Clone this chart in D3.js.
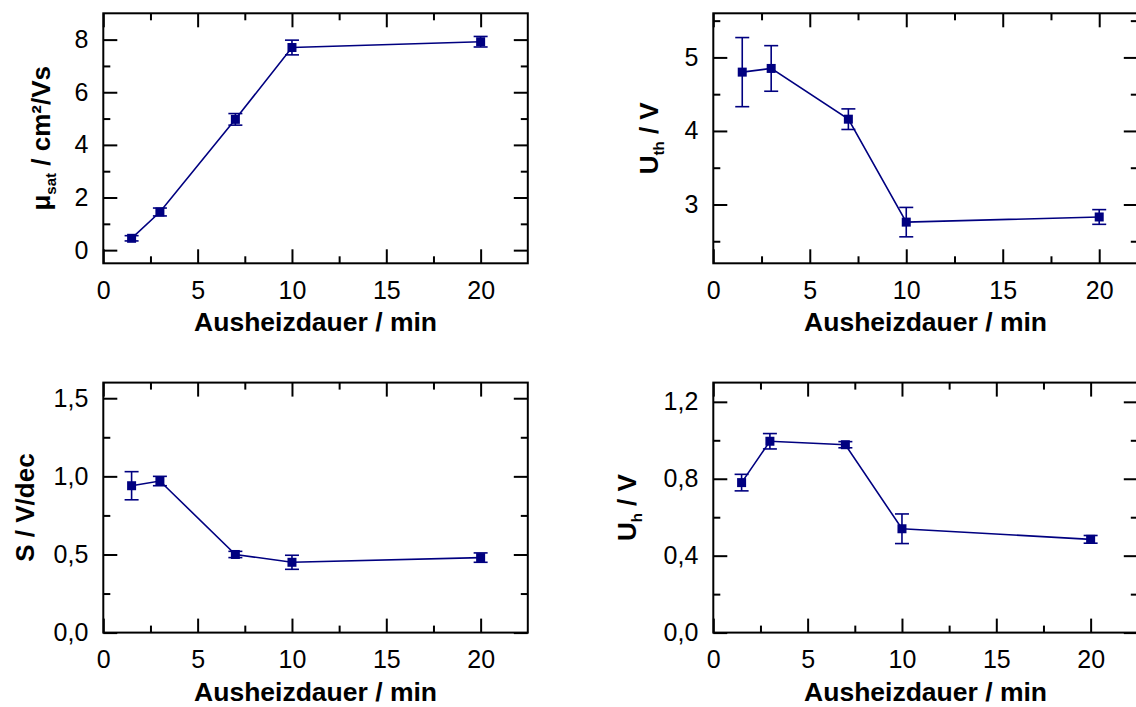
<!DOCTYPE html>
<html>
<head>
<meta charset="utf-8">
<script src="https://cdn.jsdelivr.net/npm/d3@7"></script>
<style>
  body { margin: 0; background: #fff; }
  svg { display: block; }
  text { font-family: Arial, "Liberation Sans", sans-serif; fill: #000; }
</style>
</head>
<body>
<div id="chart"></div>
<script>
// Ausheizdauer (min) and the four measured quantities with their error bars
const ausheizdauer = [1.5, 3, 7, 10, 20];

const muSat     = [0.45, 1.45, 4.97, 7.70, 7.92];
const muSatErr  = [0.10, 0.15, 0.22, 0.28, 0.20];

const uTh       = [4.80, 4.85, 4.16, 2.76, 2.83];
const uThErr    = [0.47, 0.31, 0.14, 0.20, 0.10];

const sSwing    = [0.94, 0.97, 0.50, 0.45, 0.48];
const sSwingErr = [0.09, 0.03, 0.02, 0.045, 0.03];

const uH        = [0.78, 0.995, 0.977, 0.54, 0.485];
const uHErr     = [0.043, 0.04, 0.016, 0.077, 0.02];

// tick values
const xTicks   = [0, 5, 10, 15, 20];
const xMinor   = [2.5, 7.5, 12.5, 17.5];
const muTicks  = [0, 2, 4, 6, 8];
const muMinor  = [1, 3, 5, 7];
const uThTicks = [3, 4, 5];
const uThMinor = [2.5, 3.5, 4.5, 5.5];
const sTicks   = [0, 0.5, 1.0, 1.5];
const sMinor   = [0.25, 0.75, 1.25];
const uHTicks  = [0, 0.4, 0.8, 1.2];
const uHMinor  = [0.2, 0.6, 1.0];

const xTitle = "Ausheizdauer / min";
const COLOR = "#000080";

const deLocale = d3.formatLocale({ decimal: ",", thousands: ".", grouping: [3], currency: ["", " €"] });

const W = 1136, H = 707;
const PW = 424.5, PH = 250;

const panels = [
  { left: 103.3, top: 13.3, xMax: 22.5, yDomain: [-0.5, 9], y: muSat, err: muSatErr,
    ticks: muTicks, minor: muMinor, fmt: d3.format("d"), titleX: -53,
    title: [["μ"], ["sat", 1], [" / cm²/Vs"]] },
  { left: 713.3, top: 13.3, xMax: 22, yDomain: [2.2, 5.6], y: uTh, err: uThErr,
    ticks: uThTicks, minor: uThMinor, fmt: d3.format("d"), titleX: -55,
    title: [["U"], ["th", 1], [" / V"]] },
  { left: 103.3, top: 382.6, xMax: 22.5, yDomain: [0, 1.6], y: sSwing, err: sSwingErr,
    ticks: sTicks, minor: sMinor, fmt: deLocale.format(".1f"), titleX: -69,
    title: [["S / V/dec"]] },
  { left: 713.3, top: 382.6, xMax: 22.5, yDomain: [0, 1.3], y: uH, err: uHErr,
    ticks: uHTicks, minor: uHMinor, fmt: deLocale.format(".1f"), titleX: -77,
    title: [["U"], ["h", 1], [" / V"]] }
];

const svg = d3.select("#chart").append("svg")
  .attr("width", W).attr("height", H);

panels.forEach(p => {
  const g = svg.append("g").attr("transform", `translate(${p.left},${p.top})`);

  const x = d3.scaleLinear().domain([0, p.xMax]).range([0, PW]);
  const y = d3.scaleLinear().domain(p.yDomain).range([PH, 0]);

  const xMin = xMinor.filter(v => v < p.xMax);

  const style = sel => {
    sel.select(".domain").remove();
    sel.selectAll(".tick line").attr("stroke", "#000").attr("stroke-width", 2);
    sel.selectAll(".tick text").attr("font-size", 25).attr("fill", "#000")
      .attr("font-family", "Arial, 'Liberation Sans', sans-serif");
  };

  // bottom axis with labels, plus inward ticks on all four sides
  g.append("g").attr("transform", `translate(0,${PH})`)
    .call(d3.axisBottom(x).tickValues(xTicks).tickSize(-14).tickPadding(18).tickFormat(d3.format("d")))
    .call(style);
  g.append("g").attr("transform", `translate(0,${PH})`)
    .call(d3.axisBottom(x).tickValues(xMin).tickSize(-7).tickFormat(""))
    .call(style);
  g.append("g")
    .call(d3.axisTop(x).tickValues(xTicks).tickSize(-14).tickFormat(""))
    .call(style);
  g.append("g")
    .call(d3.axisTop(x).tickValues(xMin).tickSize(-7).tickFormat(""))
    .call(style);

  g.append("g")
    .call(d3.axisLeft(y).tickValues(p.ticks).tickSize(-14).tickPadding(15).tickFormat(p.fmt))
    .call(style);
  g.append("g")
    .call(d3.axisLeft(y).tickValues(p.minor).tickSize(-7).tickFormat(""))
    .call(style);
  g.append("g").attr("transform", `translate(${PW},0)`)
    .call(d3.axisRight(y).tickValues(p.ticks).tickSize(-14).tickFormat(""))
    .call(style);
  g.append("g").attr("transform", `translate(${PW},0)`)
    .call(d3.axisRight(y).tickValues(p.minor).tickSize(-7).tickFormat(""))
    .call(style);

  g.append("rect")
    .attr("width", PW).attr("height", PH)
    .attr("fill", "none").attr("stroke", "#000").attr("stroke-width", 2);

  const pts = ausheizdauer.map((d, i) => ({ x: d, y: p.y[i], e: p.err[i] }));

  g.append("path")
    .datum(pts)
    .attr("fill", "none")
    .attr("stroke", COLOR)
    .attr("stroke-width", 1.6)
    .attr("d", d3.line().x(d => x(d.x)).y(d => y(d.y)));

  const eb = g.append("g").attr("stroke", COLOR).attr("stroke-width", 1.6);
  eb.selectAll("line.v").data(pts).join("line").attr("class", "v")
    .attr("x1", d => x(d.x)).attr("x2", d => x(d.x))
    .attr("y1", d => y(d.y - d.e)).attr("y2", d => y(d.y + d.e));
  eb.selectAll("line.top").data(pts).join("line").attr("class", "top")
    .attr("x1", d => x(d.x) - 7).attr("x2", d => x(d.x) + 7)
    .attr("y1", d => y(d.y + d.e)).attr("y2", d => y(d.y + d.e));
  eb.selectAll("line.bot").data(pts).join("line").attr("class", "bot")
    .attr("x1", d => x(d.x) - 7).attr("x2", d => x(d.x) + 7)
    .attr("y1", d => y(d.y - d.e)).attr("y2", d => y(d.y - d.e));

  g.append("g").selectAll("rect").data(pts).join("rect")
    .attr("x", d => x(d.x) - 4.5).attr("y", d => y(d.y) - 4.5)
    .attr("width", 9).attr("height", 9)
    .attr("fill", COLOR);

  // axis titles
  g.append("text")
    .attr("x", PW / 2).attr("y", PH + 68)
    .attr("text-anchor", "middle")
    .attr("font-size", 26.5).attr("font-weight", "bold")
    .text(xTitle);

  const yt = g.append("text")
    .attr("transform", `translate(${p.titleX},${PH / 2}) rotate(-90)`)
    .attr("text-anchor", "middle")
    .attr("font-size", 26).attr("font-weight", "bold");
  p.title.forEach(([t, sub], i) => {
    const prevSub = i > 0 && p.title[i - 1][1];
    yt.append("tspan")
      .attr("font-size", sub ? 15 : 26)
      .attr("dy", sub ? 6 : (prevSub ? -6 : 0))
      .text(t);
  });
});
</script>
</body>
</html>
